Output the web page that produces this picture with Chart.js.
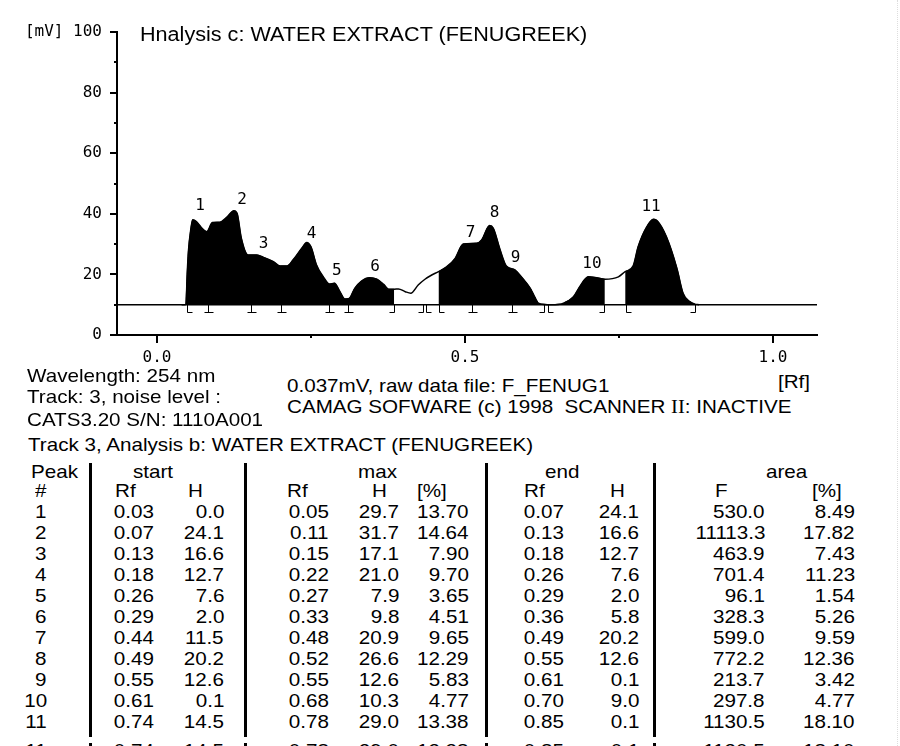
<!DOCTYPE html>
<html>
<head>
<meta charset="utf-8">
<script src="https://cdn.jsdelivr.net/npm/chart.js@4.4.0/dist/chart.umd.min.js"></script>
<style>
html, body { margin: 0; padding: 0; background: #fff; }
body { width: 900px; height: 746px; overflow: hidden; position: relative;
       font-family: "Liberation Sans", Arial, sans-serif; font-size: 19px; color: #000; }
#chartBox { position: absolute; left: 0; top: 0; width: 900px; height: 370px; }
.t { position: absolute; white-space: pre; line-height: 20px;
     transform: scaleX(1.085); transform-origin: left top; }
.t.num { transform-origin: right top; }
.t.head { font-size: 20px; transform: scaleX(1.08); }
.vline { position: absolute; width: 3px; background: #000; }
#edge { position: absolute; left: 897px; top: 0; height: 746px; border-left: 1px dotted #ddd; }
.roman { font-family: "Liberation Serif", "Times New Roman", serif; }
</style>
</head>
<body>
<div id="chartBox"><canvas id="scan" width="900" height="370"></canvas></div>

<div class="t head" style="left:140px;top:24px">Hnalysis c: WATER EXTRACT (FENUGREEK)</div>
<div class="t" style="left:27px;top:366px">Wavelength: 254 nm</div>
<div class="t" style="left:27px;top:387px">Track: 3, noise level :</div>
<div class="t" style="left:27px;top:410px">CATS3.20 S/N: 1110A001</div>
<div class="t" style="left:287px;top:376px">0.037mV, raw data file: F_FENUG1</div>
<div class="t" style="left:287px;top:397px">CAMAG SOFWARE (c) 1998  SCANNER <span class="roman">II</span>: INACTIVE</div>
<div class="t" style="left:778px;top:372px">[Rf]</div>
<div class="t" style="left:28px;top:435px">Track 3, Analysis b: WATER EXTRACT (FENUGREEK)</div>

<div class="t" style="left:31px;top:462px">Peak</div>
<div class="t" style="left:133px;top:462px">start</div>
<div class="t" style="left:358px;top:462px">max</div>
<div class="t" style="left:545px;top:462px">end</div>
<div class="t" style="left:766px;top:462px">area</div>
<div class="t" style="left:35px;top:481px">#</div>
<div class="t" style="left:115px;top:481px">Rf</div>
<div class="t" style="left:188px;top:481px">H</div>
<div class="t" style="left:287px;top:481px">Rf</div>
<div class="t" style="left:372px;top:481px">H</div>
<div class="t" style="left:417px;top:481px">[%]</div>
<div class="t" style="left:524px;top:481px">Rf</div>
<div class="t" style="left:610px;top:481px">H</div>
<div class="t" style="left:715px;top:481px">F</div>
<div class="t" style="left:812px;top:481px">[%]</div>
<div id="rows"></div>
<div id="edge"></div>

<script>
// densitogram trace (Rf, mV)
const rfValues = [0.040, 0.047, 0.049, 0.051, 0.055, 0.058, 0.064, 0.072, 0.081, 0.090,
                  0.102, 0.113, 0.125, 0.130, 0.137, 0.148, 0.162, 0.173, 0.189, 0.200,
                  0.211, 0.221, 0.235, 0.243, 0.250, 0.259, 0.270, 0.280, 0.288, 0.297,
                  0.305, 0.312, 0.321, 0.332, 0.345, 0.357, 0.368, 0.376, 0.385, 0.392,
                  0.403, 0.412, 0.424, 0.435, 0.446, 0.457, 0.470, 0.484, 0.497, 0.519,
                  0.527, 0.540, 0.546, 0.557, 0.567, 0.581, 0.589, 0.606, 0.619, 0.640,
                  0.660, 0.676, 0.687, 0.700, 0.711, 0.727, 0.749, 0.760, 0.773, 0.781,
                  0.795, 0.806, 0.812, 0.827, 0.844, 0.854, 0.865, 0.873, 0.880];
const mvValues = [10.0, 10.1, 20.0, 27.5, 35.0, 38.0, 37.4, 35.5, 34.1, 37.1,
                  37.2, 38.8, 41.0, 40.2, 31.9, 26.4, 26.4, 25.6, 24.2, 22.8,
                  22.8, 24.8, 28.6, 30.5, 29.1, 23.1, 19.2, 16.8, 17.1, 14.3,
                  11.9, 12.1, 15.4, 17.8, 18.9, 18.4, 16.7, 15.1, 15.1, 15.2,
                  14.3, 13.8, 16.5, 18.4, 19.8, 20.9, 22.5, 25.3, 30.0, 30.3,
                  31.4, 36.1, 35.2, 28.1, 22.8, 21.5, 19.8, 15.4, 10.5, 10.0,
                  10.5, 12.6, 16.2, 19.2, 19.0, 18.4, 19.2, 20.9, 22.8, 29.1,
                  35.7, 38.2, 37.7, 32.4, 22.0, 13.8, 11.0, 10.2, 10.0];

// integrated (blacked-out) zones and baseline
const fillFrom = [0.047, 0.457, 0.660, 0.760];
const fillTo   = [0.385, 0.619, 0.727, 0.873];
const baselineMv = 10;

// start / end / shared markers under the baseline
const markRf   = [0.048, 0.083, 0.153, 0.201, 0.280, 0.310, 0.384, 0.432, 0.437,
                  0.458, 0.511, 0.577, 0.628, 0.634, 0.726, 0.761, 0.873];
const markKind = ['s', 'm', 'm', 'm', 'm', 'm', 'e', 'e', 's',
                  's', 'm', 'm', 'e', 's', 'e', 's', 'e'];

// peak numbers on the plot
const peakLabels  = ['1', '2', '3', '4', '5', '6', '7', '8', '9', '10', '11'];
const peakLabelRf = [0.070, 0.138, 0.173, 0.251, 0.292, 0.354, 0.509, 0.548, 0.582, 0.706, 0.802];
const peakLabelMv = [42.6, 44.6, 30.1, 33.4, 21.1, 22.5, 33.6, 40.2, 25.3, 23.4, 42.2];

// axes
const xMin = -0.0649, xMax = 1.0714;
const xTicks = [0, 0.5, 1.0];
const xMinor = [0.25, 0.75];
const yTicks = [0, 20, 40, 60, 80, 100];
const yMinor = [10, 30, 50, 70, 90];

// report table, Analysis b
const peakNo  = [1, 2, 3, 4, 5, 6, 7, 8, 9, 10, 11];
const startRf = [0.03, 0.07, 0.13, 0.18, 0.26, 0.29, 0.44, 0.49, 0.55, 0.61, 0.74];
const startH  = [0.0, 24.1, 16.6, 12.7, 7.6, 2.0, 11.5, 20.2, 12.6, 0.1, 14.5];
const maxRf   = [0.05, 0.11, 0.15, 0.22, 0.27, 0.33, 0.48, 0.52, 0.55, 0.68, 0.78];
const maxH    = [29.7, 31.7, 17.1, 21.0, 7.9, 9.8, 20.9, 26.6, 12.6, 10.3, 29.0];
const maxPct  = [13.70, 14.64, 7.90, 9.70, 3.65, 4.51, 9.65, 12.29, 5.83, 4.77, 13.38];
const endRf   = [0.07, 0.13, 0.18, 0.26, 0.29, 0.36, 0.49, 0.55, 0.61, 0.70, 0.85];
const endH    = [24.1, 16.6, 12.7, 7.6, 2.0, 5.8, 20.2, 12.6, 0.1, 9.0, 0.1];
const areaF   = [530.0, 11113.3, 463.9, 701.4, 96.1, 328.3, 599.0, 772.2, 213.7, 297.8, 1130.5];
const areaPct = [8.49, 17.82, 7.43, 11.23, 1.54, 5.26, 9.59, 12.36, 3.42, 4.77, 18.10];

const pixFont = '"DejaVu Sans Mono", "Liberation Mono", monospace';

const points = rfValues.map((r, i) => ({ x: r, y: mvValues[i] }));

const zones = fillFrom.map((f, k) => ({
  data: points.filter(p => p.x >= f && p.x <= fillTo[k]),
  borderColor: '#000',
  borderWidth: 1,
  backgroundColor: '#000',
  pointRadius: 0,
  cubicInterpolationMode: 'monotone',
  fill: { value: baselineMv }
}));

const marks = {
  id: 'marks',
  afterDatasetsDraw(chart) {
    const { ctx, scales: { x, y } } = chart;
    const left = chart.chartArea.left, bottom = chart.chartArea.bottom;
    ctx.save();
    ctx.strokeStyle = '#000';

    ctx.lineWidth = 2;
    ctx.beginPath();
    yTicks.forEach(v => { const p = Math.round(y.getPixelForValue(v)); ctx.moveTo(left - 7, p); ctx.lineTo(left, p); });
    yMinor.forEach(v => { const p = Math.round(y.getPixelForValue(v)); ctx.moveTo(left - 3, p); ctx.lineTo(left, p); });
    xTicks.forEach(v => { const p = Math.round(x.getPixelForValue(v)); ctx.moveTo(p, bottom); ctx.lineTo(p, bottom + 8); });
    xMinor.forEach(v => { const p = Math.round(x.getPixelForValue(v)); ctx.moveTo(p, bottom); ctx.lineTo(p, bottom + 3); });
    ctx.stroke();

    ctx.lineWidth = 1;
    const by = Math.round(y.getPixelForValue(baselineMv));
    ctx.beginPath();
    markRf.forEach((r, i) => {
      const p = Math.round(x.getPixelForValue(r)) + 0.5;
      ctx.moveTo(p, by);
      ctx.lineTo(p, by + 7.5);
      if (markKind[i] === 's') { ctx.lineTo(p + 5, by + 7.5); }
      else if (markKind[i] === 'e') { ctx.lineTo(p - 5, by + 7.5); }
      else { ctx.moveTo(p - 4, by + 7.5); ctx.lineTo(p + 5, by + 7.5); }
    });
    ctx.stroke();

    ctx.fillStyle = '#000';
    ctx.font = '16px ' + pixFont;
    ctx.textAlign = 'center';
    ctx.textBaseline = 'middle';
    peakLabels.forEach((t, i) => {
      ctx.fillText(t, x.getPixelForValue(peakLabelRf[i]), y.getPixelForValue(peakLabelMv[i]));
    });
    ctx.restore();
  }
};

new Chart(document.getElementById('scan'), {
  type: 'line',
  data: {
    datasets: [
      ...zones,
      {
        data: points,
        borderColor: '#000',
        borderWidth: 1.5,
        pointRadius: 0,
        cubicInterpolationMode: 'monotone',
        fill: false
      },
      {
        data: [{ x: xMin, y: baselineMv }, { x: xMax, y: baselineMv }],
        borderColor: '#000',
        borderWidth: 1.5,
        pointRadius: 0,
        fill: false
      }
    ]
  },
  options: {
    responsive: false,
    animation: false,
    events: [],
    layout: { padding: { top: 32, right: 83, left: 0, bottom: 0 } },
    plugins: { legend: { display: false }, tooltip: { enabled: false } },
    scales: {
      x: {
        type: 'linear',
        min: xMin,
        max: xMax,
        afterBuildTicks: s => { s.ticks = xTicks.map(v => ({ value: v })); },
        afterFit: s => { s.height = 35; },
        grid: { display: false },
        border: { display: true, color: '#000', width: 2 },
        ticks: {
          autoSkip: false,
          maxRotation: 0,
          padding: 5,
          color: '#000',
          font: { family: pixFont, size: 16 },
          callback: v => Number(v).toFixed(1)
        }
      },
      y: {
        min: 0,
        max: 100,
        afterBuildTicks: s => { s.ticks = yTicks.map(v => ({ value: v })); },
        afterFit: s => { s.width = 117; },
        grid: { display: false },
        border: { display: true, color: '#000', width: 2 },
        ticks: {
          autoSkip: false,
          padding: 7,
          color: '#000',
          font: { family: pixFont, size: 16 },
          callback: v => (v === 100 ? '[mV] 100' : String(v))
        }
      }
    }
  },
  plugins: [marks]
});

// table rows
const cols = [
  { vals: peakNo,  dec: 0, right: 47 },
  { vals: startRf, dec: 2, right: 154 },
  { vals: startH,  dec: 1, right: 224 },
  { vals: maxRf,   dec: 2, right: 329 },
  { vals: maxH,    dec: 1, right: 399 },
  { vals: maxPct,  dec: 2, right: 469 },
  { vals: endRf,   dec: 2, right: 564 },
  { vals: endH,    dec: 1, right: 639 },
  { vals: areaF,   dec: 1, right: 765 },
  { vals: areaPct, dec: 2, right: 855 }
];
const rowsBox = document.getElementById('rows');
function addRow(i, top) {
  cols.forEach(c => {
    const d = document.createElement('div');
    d.className = 't num';
    d.style.top = top + 'px';
    d.style.right = (900 - c.right) + 'px';
    d.textContent = c.vals[i].toFixed(c.dec);
    rowsBox.appendChild(d);
  });
}
peakNo.forEach((n, i) => addRow(i, 502 + 21 * i));
// the last line shows up again at the page fold, cut by the window edge
addRow(peakNo.length - 1, 741);

[89, 244, 485, 653].forEach(x => {
  [[463, 274], [743, 10]].forEach(([top, h]) => {
    const v = document.createElement('div');
    v.className = 'vline';
    v.style.left = x + 'px';
    v.style.top = top + 'px';
    v.style.height = h + 'px';
    rowsBox.appendChild(v);
  });
});
</script>
</body>
</html>
